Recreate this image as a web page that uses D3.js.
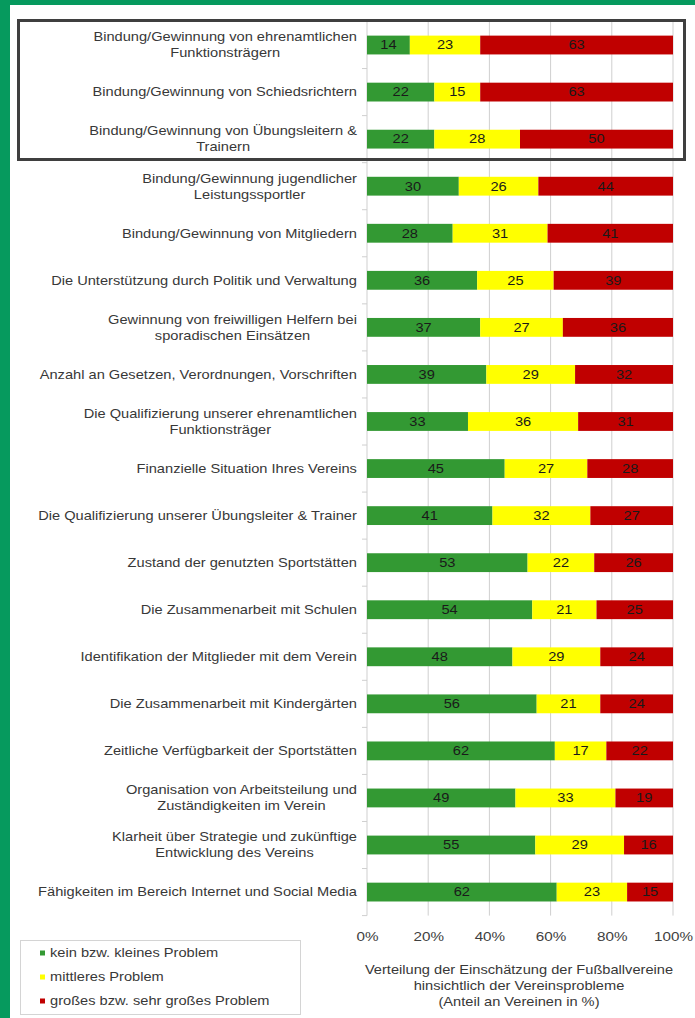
<!DOCTYPE html>
<html>
<head>
<meta charset="utf-8">
<script src="https://cdn.jsdelivr.net/npm/d3@7"></script>
<style>
  body { margin: 0; background: #fff; }
  svg { display: block; font-family: "Liberation Sans", Arial, sans-serif; }
  .cat { font-size: 12px; fill: #383838; }
  .val { font-size: 12px; fill: #1a1a1a; }
  .tick text { font-size: 12.5px; fill: #404040; }
  .axTitle { font-size: 12px; fill: #383838; }
  .leg { font-size: 12px; fill: #383838; }
</style>
</head>
<body>
<svg id="svg_main" width="695" height="1018"></svg>
<script>

// data
const categories = [
  'Bindung/Gewinnung von ehrenamtlichen\nFunktionsträgern',
  'Bindung/Gewinnung von Schiedsrichtern',
  'Bindung/Gewinnung von Übungsleitern &\nTrainern',
  'Bindung/Gewinnung jugendlicher\nLeistungssportler',
  'Bindung/Gewinnung von Mitgliedern',
  'Die Unterstützung durch Politik und Verwaltung',
  'Gewinnung von freiwilligen Helfern bei\nsporadischen Einsätzen',
  'Anzahl an Gesetzen, Verordnungen, Vorschriften',
  'Die Qualifizierung unserer ehrenamtlichen\nFunktionsträger',
  'Finanzielle Situation Ihres Vereins',
  'Die Qualifizierung unserer Übungsleiter & Trainer',
  'Zustand der genutzten Sportstätten',
  'Die Zusammenarbeit mit Schulen',
  'Identifikation der Mitglieder mit dem Verein',
  'Die Zusammenarbeit mit Kindergärten',
  'Zeitliche Verfügbarkeit der Sportstätten',
  'Organisation von Arbeitsteilung und\nZuständigkeiten im Verein',
  'Klarheit über Strategie und zukünftige\nEntwicklung des Vereins',
  'Fähigkeiten im Bereich Internet und Social Media'
];
const kein =     [14, 22, 22, 30, 28, 36, 37, 39, 33, 45, 41, 53, 54, 48, 56, 62, 49, 55, 62];
const mittel =   [23, 15, 28, 26, 31, 25, 27, 29, 36, 27, 32, 22, 21, 29, 21, 17, 33, 29, 23];
const gross =    [63, 63, 50, 44, 41, 39, 36, 32, 31, 28, 27, 26, 25, 24, 24, 22, 19, 16, 15];
const seriesNames = ['kein bzw. kleines Problem', 'mittleres Problem', 'großes bzw. sehr großes Problem'];
const xTicks = [0, 20, 40, 60, 80, 100];
const axisTitle = ['Verteilung der Einschätzung der Fußballvereine', 'hinsichtlich der Vereinsprobleme', '(Anteil an Vereinen in %)'];

const colors = ['#339933', '#ffff00', '#c00000'];
const sx = 1.22; // text in the picture is stretched horizontally

const svg = d3.select('#svg_main');
const width = 695, height = 1018;

// frame (green band left + top)
svg.append('rect').attr('x', 0).attr('y', 0).attr('width', width).attr('height', 5).attr('fill', '#069a5e');
svg.append('rect').attr('x', 0).attr('y', 0).attr('width', 10).attr('height', height).attr('fill', '#069a5e');

const plotLeft = 367, plotRight = 673, plotTop = 21.5, plotBottom = 915.6;

const x = d3.scaleLinear().domain([0, 100]).range([plotLeft, plotRight]);
const y = d3.scaleBand().domain(d3.range(categories.length)).range([plotTop, plotBottom]).paddingInner(0.6).paddingOuter(0.3);
const yb = d3.scaleBand().domain(d3.range(categories.length)).range([plotTop, plotBottom]);

// stacked, normalized to 100%
const rows = categories.map((c, i) => {
  const vals = [kein[i], mittel[i], gross[i]];
  const sum = d3.sum(vals);
  let acc = 0;
  return vals.map((v, k) => {
    const seg = { i, k, v, x0: acc / sum * 100, x1: (acc + v) / sum * 100 };
    acc += v;
    return seg;
  });
});

// gridlines
svg.append('g').selectAll('line').data(xTicks).join('line')
  .attr('x1', d => x(d)).attr('x2', d => x(d))
  .attr('y1', plotTop).attr('y2', plotBottom)
  .attr('stroke', '#cfcfcf').attr('stroke-width', 1);

// category boundary ticks
svg.append('g').selectAll('line').data(d3.range(categories.length + 1)).join('line')
  .attr('x1', plotLeft - 5).attr('x2', plotLeft)
  .attr('y1', d => plotTop + d * yb.step()).attr('y2', d => plotTop + d * yb.step())
  .attr('stroke', '#cfcfcf');

// bars
const segs = rows.flat();
svg.append('g').selectAll('rect').data(segs).join('rect')
  .attr('x', d => x(d.x0)).attr('width', d => x(d.x1) - x(d.x0))
  .attr('y', d => y(d.i)).attr('height', y.bandwidth())
  .attr('fill', d => colors[d.k]);

svg.append('g').selectAll('text').data(segs).join('text')
  .attr('class', 'val')
  .attr('transform', d => `translate(${(x(d.x0) + x(d.x1)) / 2}, ${y(d.i) + y.bandwidth() / 2}) scale(${sx}, 1)`)
  .attr('dy', '0.36em')
  .attr('text-anchor', 'middle')
  .text(d => d.v);

// category labels: block right-aligned, lines centered in block
const labelRight = 357;
categories.forEach((c, i) => {
  const lines = c.split('\n');
  const cy = yb(i) + yb.bandwidth() / 2;
  const g = svg.append('g');
  const texts = lines.map((l, j) => g.append('text')
    .attr('class', 'cat')
    .attr('dy', '0.36em')
    .attr('text-anchor', 'middle')
    .datum(cy + (j - (lines.length - 1) / 2) * 16)
    .text(l));
  const maxW = d3.max(texts, t => t.node().getComputedTextLength()) * sx;
  texts.forEach(t => t.attr('transform', d => `translate(${labelRight - maxW / 2}, ${d}) scale(${sx}, 1)`));
});

// highlight box around first three
svg.append('rect')
  .attr('x', 18.5).attr('y', 20.5)
  .attr('width', 666).attr('height', 139)
  .attr('fill', 'none').attr('stroke', '#3f3f3f').attr('stroke-width', 3);

// x axis
const xAxis = d3.axisBottom(x).tickValues(xTicks).tickFormat(d => d + '%').tickSize(0).tickPadding(0);
svg.append('g').attr('transform', `translate(0, ${932})`).call(xAxis)
  .call(g => g.select('.domain').remove())
  .selectAll('text').attr('font-family', null).attr('font-size', null)
  .attr('transform', `scale(${sx}, 1)`);

// axis title
svg.append('g').selectAll('text').data(axisTitle).join('text')
  .attr('class', 'axTitle')
  .attr('transform', (d, i) => `translate(519, ${970 + i * 16}) scale(${sx}, 1)`)
  .attr('dy', '0.36em').attr('text-anchor', 'middle')
  .text(d => d);

// legend
svg.append('rect').attr('x', 20.5).attr('y', 940.5).attr('width', 280).attr('height', 74)
  .attr('fill', '#fff').attr('stroke', '#d4d4d4');
const leg = svg.append('g').selectAll('g').data(seriesNames).join('g')
  .attr('transform', (d, i) => `translate(40, ${953 + i * 24})`);
leg.append('rect').attr('x', 0).attr('y', -2.5).attr('width', 5).attr('height', 5).attr('fill', (d, i) => colors[i]);
leg.append('text').attr('class', 'leg').attr('transform', `translate(10, 0) scale(${sx}, 1)`).attr('dy', '0.36em').text(d => d);

</script>
</body>
</html>
